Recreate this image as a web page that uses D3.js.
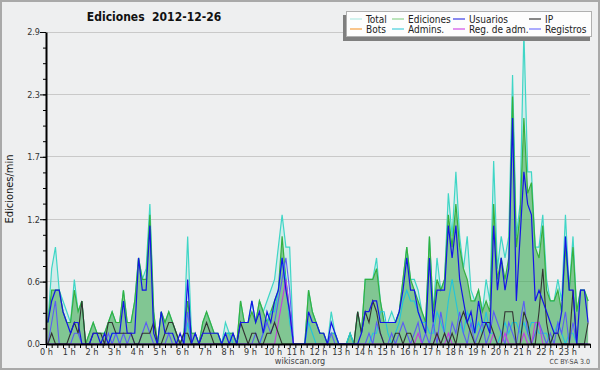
<!DOCTYPE html>
<html><head><meta charset="utf-8">
<script src="https://cdn.jsdelivr.net/npm/d3@7"></script>
<style>
html,body{margin:0;padding:0;background:#eeeff0;}
svg{display:block;font-family:"DejaVu Sans Condensed","DejaVu Sans",sans-serif;}
</style></head><body>
<svg id="c" width="600" height="370"></svg>
<script>
// ---------- data (10-minute slots, 0h .. 23h50) ----------
const hourLabels = ["0 h","1 h","2 h","3 h","4 h","5 h","6 h","7 h","8 h","9 h","10 h","11 h",
  "12 h","13 h","14 h","15 h","16 h","17 h","18 h","19 h","20 h","21 h","22 h","23 h"];
const yTickValues = [0, 0.58, 1.16, 1.74, 2.32, 2.9];
const yTickLabels = ["0.0","0.6","1.2","1.7","2.3","2.9"];

const total = [
0.2,0.7,0.9,0.5,0.4,0.3, 0.2,0.6,0.3,0.4,0.0,0.1, 0.2,0.1,0.1,0.1,0.2,0.3, 0.2,0.2,0.5,0.2,0.2,0.4,
0.8,0.6,0.7,1.3,0.3,0.0, 0.3,0.2,0.3,0.2,0.1,0.0, 0.1,1.0,0.1,0.1,0.0,0.2, 0.3,0.2,0.1,0.1,0.0,0.2,
0.1,0.1,0.0,0.4,0.2,0.2, 0.4,0.2,0.4,0.3,0.4,0.5, 0.6,0.9,1.2,0.9,0.9,0.0, 0.0,0.0,0.0,0.5,0.3,0.2,
0.1,0.1,0.0,0.3,0.1,0.0, 0.0,0.0,0.1,0.0,0.3,0.1, 0.6,0.6,0.6,0.8,0.4,0.2, 0.2,0.3,0.2,0.3,0.6,0.9,
0.6,0.6,0.5,0.3,0.2,1.0, 0.3,0.8,0.5,0.6,1.4,1.0, 1.6,1.0,0.7,1.0,0.5,0.4, 0.5,0.3,0.6,0.4,1.7,0.7,
1.0,0.8,1.0,2.5,1.0,1.3, 2.9,1.6,1.6,0.9,0.9,1.2, 0.6,0.4,0.4,0.6,0.4,1.2, 0.5,1.0,0.3,0.5,0.5,0.4];

const ediciones = [
0.2,0.5,0.5,0.5,0.3,0.2, 0.2,0.5,0.3,0.4,0.0,0.1, 0.2,0.1,0.1,0.1,0.2,0.3, 0.2,0.2,0.5,0.2,0.2,0.4,
0.8,0.6,0.6,1.2,0.3,0.0, 0.3,0.2,0.3,0.2,0.1,0.0, 0.1,0.4,0.1,0.1,0.0,0.2, 0.3,0.2,0.1,0.1,0.0,0.1,
0.1,0.1,0.0,0.4,0.2,0.2, 0.3,0.2,0.4,0.3,0.2,0.3, 0.4,0.5,1.0,0.6,0.3,0.0, 0.0,0.0,0.0,0.5,0.3,0.2,
0.1,0.1,0.0,0.1,0.1,0.0, 0.0,0.0,0.1,0.0,0.3,0.1, 0.6,0.6,0.6,0.7,0.4,0.2, 0.2,0.2,0.2,0.3,0.6,0.9,
0.6,0.5,0.4,0.3,0.2,1.0, 0.3,0.6,0.5,0.6,1.2,0.9, 1.3,0.9,0.7,0.6,0.4,0.4, 0.5,0.3,0.4,0.3,1.3,0.6,
0.8,0.6,0.8,2.3,0.9,1.2, 2.1,1.4,1.5,0.9,0.8,1.1, 0.5,0.4,0.4,0.5,0.3,0.9, 0.5,0.9,0.3,0.5,0.5,0.4];

const usuarios = [
0.2,0.4,0.5,0.5,0.3,0.2, 0.1,0.2,0.2,0.0,0.0,0.0, 0.1,0.1,0.0,0.1,0.0,0.1, 0.1,0.1,0.4,0.1,0.1,0.1,
0.8,0.5,0.5,1.1,0.1,0.0, 0.3,0.1,0.1,0.1,0.0,0.1, 0.0,0.6,0.0,0.1,0.0,0.1, 0.1,0.1,0.1,0.1,0.0,0.1,
0.0,0.1,0.0,0.2,0.2,0.2, 0.4,0.2,0.3,0.1,0.3,0.2, 0.4,0.5,0.8,0.5,0.3,0.0, 0.0,0.0,0.0,0.3,0.2,0.2,
0.1,0.1,0.0,0.2,0.1,0.0, 0.0,0.0,0.0,0.0,0.0,0.1, 0.3,0.3,0.4,0.4,0.2,0.2, 0.2,0.2,0.2,0.3,0.5,0.8,
0.5,0.5,0.3,0.2,0.1,0.8, 0.2,0.5,0.5,0.5,1.1,0.8, 1.1,0.6,0.4,0.2,0.3,0.1, 0.4,0.2,0.2,0.1,1.1,0.5,
0.8,0.5,0.7,2.1,0.4,1.0, 1.6,1.3,1.2,0.4,0.5,0.4, 0.3,0.2,0.1,0.1,0.3,1.0, 0.5,0.5,0.0,0.5,0.5,0.2];

const ip = [
0.0,0.1,0.0,0.0,0.0,0.0, 0.1,0.2,0.1,0.4,0.0,0.0, 0.1,0.1,0.1,0.0,0.2,0.2, 0.1,0.1,0.1,0.1,0.1,0.0,
0.0,0.1,0.1,0.1,0.2,0.0, 0.0,0.1,0.2,0.2,0.1,0.0, 0.1,0.1,0.0,0.0,0.0,0.1, 0.2,0.1,0.0,0.0,0.0,0.0,
0.0,0.0,0.0,0.2,0.1,0.0, 0.1,0.1,0.0,0.0,0.1,0.1, 0.2,0.1,0.0,0.0,0.0,0.0, 0.0,0.0,0.0,0.0,0.0,0.0,
0.0,0.0,0.0,0.0,0.0,0.0, 0.0,0.0,0.0,0.0,0.3,0.1, 0.3,0.2,0.4,0.3,0.1,0.0, 0.0,0.0,0.1,0.1,0.0,0.1,
0.1,0.0,0.0,0.0,0.0,0.0, 0.0,0.1,0.0,0.1,0.0,0.1, 0.0,0.2,0.3,0.2,0.1,0.0, 0.0,0.1,0.2,0.2,0.1,0.0,
0.0,0.3,0.3,0.3,0.0,0.0, 0.3,0.2,0.0,0.0,0.3,0.7, 0.2,0.0,0.1,0.1,0.0,0.0, 0.0,0.5,0.0,0.0,0.0,0.2];

const admins = [
0.0,0.0,0.0,0.0,0.0,0.0, 0.0,0.0,0.0,0.0,0.0,0.0, 0.0,0.0,0.0,0.0,0.0,0.1, 0.1,0.0,0.0,0.0,0.0,0.0,
0.0,0.0,0.0,0.0,0.0,0.0, 0.0,0.0,0.0,0.0,0.0,0.0, 0.0,0.2,0.0,0.0,0.0,0.0, 0.0,0.0,0.0,0.0,0.0,0.1,
0.1,0.0,0.0,0.0,0.0,0.0, 0.0,0.0,0.0,0.1,0.2,0.3, 0.3,0.5,0.8,0.6,0.2,0.0, 0.0,0.0,0.0,0.2,0.1,0.0,
0.0,0.0,0.0,0.1,0.1,0.0, 0.0,0.0,0.1,0.0,0.0,0.0, 0.0,0.0,0.1,0.1,0.3,0.3, 0.1,0.0,0.1,0.2,0.4,0.5,
0.4,0.4,0.3,0.2,0.2,0.1, 0.1,0.3,0.2,0.1,0.4,0.6, 0.4,0.2,0.1,0.3,0.2,0.1, 0.2,0.1,0.3,0.1,0.1,0.0,
0.1,0.2,0.1,0.2,0.2,0.1, 0.2,0.1,0.2,0.2,0.1,0.1, 0.1,0.0,0.1,0.2,0.1,0.0, 0.1,0.1,0.0,0.0,0.0,0.0];

const registros = [
0.0,0.2,0.4,0.0,0.0,0.0, 0.0,0.1,0.1,0.0,0.0,0.0, 0.0,0.0,0.0,0.0,0.1,0.0, 0.1,0.0,0.1,0.0,0.1,0.0,
0.0,0.1,0.2,0.1,0.0,0.0, 0.0,0.0,0.1,0.0,0.0,0.0, 0.0,0.3,0.0,0.0,0.0,0.0, 0.0,0.0,0.0,0.0,0.0,0.0,
0.0,0.0,0.0,0.0,0.0,0.0, 0.0,0.1,0.0,0.1,0.2,0.1, 0.2,0.4,0.6,0.8,0.5,0.0, 0.0,0.0,0.0,0.0,0.0,0.0,
0.0,0.0,0.0,0.1,0.0,0.0, 0.0,0.0,0.0,0.0,0.0,0.0, 0.0,0.1,0.0,0.2,0.1,0.0, 0.0,0.1,0.0,0.1,0.2,0.1,
0.0,0.1,0.2,0.0,0.1,0.0, 0.2,0.0,0.3,0.1,0.0,0.2, 0.1,0.3,0.1,0.0,0.2,0.0, 0.1,0.2,0.0,0.1,0.3,0.2,
0.1,0.0,0.2,0.1,0.0,0.2, 0.4,0.1,0.0,0.1,0.2,0.1, 0.0,0.1,0.0,0.2,0.1,0.3, 0.0,0.2,0.0,0.0,0.0,0.0];

const regAdm = [
0,0,0,0,0,0, 0,0,0,0,0,0, 0,0,0,0,0,0, 0,0,0,0,0,0,
0,0,0,0,0,0, 0,0,0,0,0,0, 0,0,0,0,0,0, 0,0,0,0,0,0,
0,0,0,0,0,0, 0,0,0,0,0,0, 0,0.2,0.4,0.6,0.3,0, 0,0,0,0,0,0,
0,0,0,0,0,0, 0,0,0,0,0,0, 0,0,0,0,0,0, 0,0,0,0,0,0,
0,0,0.1,0,0,0, 0,0.1,0,0,0.1,0, 0,0,0,0,0,0, 0,0,0,0,0.1,0,
0,0.1,0,0,0,0, 0.1,0,0,0.2,0.2,0, 0,0,0,0,0,0, 0,0,0,0,0,0];

const legendItems = [
  {name:"Total", color:"#b5ebe5"}, {name:"Ediciones", color:"#8fd48f"},
  {name:"Usuarios", color:"#3c3ce6"}, {name:"IP", color:"#3a3a3a"},
  {name:"Bots", color:"#f7a040"}, {name:"Admins.", color:"#46cfdc"},
  {name:"Reg. de adm.", color:"#d04ee8"}, {name:"Registros", color:"#7676ff"}
];

// ---------- drawing ----------
const svg = d3.select("#c");
svg.append("rect").attr("x",1).attr("y",1).attr("width",598).attr("height",368)
  .attr("fill","#eeeff0").attr("stroke","#a9a9a9").attr("stroke-width",2);

const x = d3.scaleLinear().domain([0,1440]).range([46,590]);
const y = d3.scaleLinear().domain([0,2.9]).range([344,32]);
const xs = (d,i) => x(i*10+5);

// grid
svg.append("g").selectAll("line").data(yTickValues.slice(1)).join("line")
  .attr("x1",46).attr("x2",590).attr("y1",d=>y(d)).attr("y2",d=>y(d))
  .attr("stroke","#c9c9c9").attr("stroke-width",1).attr("shape-rendering","crispEdges");

const area = d3.area().x(xs).y0(y(0)).y1(d=>y(d));
const line = d3.line().x(xs).y(d=>y(d));

svg.append("path").datum(total).attr("d",area).attr("fill","rgba(64,224,208,0.16)");
svg.append("path").datum(ediciones).attr("d",area).attr("fill","rgba(50,160,60,0.5)");

const series = [
  {d:total, c:"#3fd6c6", w:1.2},
  {d:ediciones, c:"#36b03e", w:1.2},
  {d:admins, c:"#22c4dc", w:1.1},
  {d:registros, c:"#5c5cf5", w:1.1},
  {d:regAdm, c:"#c43ce0", w:1.1},
  {d:ip, c:"#333333", w:1.1},
  {d:usuarios, c:"#1414e6", w:1.2}
];
series.forEach(s => {
  svg.append("path").datum(s.d).attr("d",line).attr("fill","none")
    .attr("stroke",s.c).attr("stroke-width",s.w).attr("stroke-linejoin","miter");
});

// y axis
const minor = d3.range(0,21).map(k=>k*0.145);
const gyMinor = svg.append("g").attr("transform","translate(46,0)")
  .call(d3.axisLeft(y).tickValues(minor).tickSize(3).tickFormat(""));
gyMinor.select(".domain").remove();
const gy = svg.append("g").attr("transform","translate(46,0)")
  .call(d3.axisLeft(y).tickValues(yTickValues).tickSize(6).tickSizeOuter(0)
    .tickFormat((d,i)=>yTickLabels[i]));
gy.select(".domain").attr("stroke","#000").attr("stroke-width",2);
gy.selectAll(".tick text").attr("x",-6).attr("font-size","9px").attr("fill","#333")
  .attr("font-family","DejaVu Sans Condensed, DejaVu Sans, sans-serif");
svg.selectAll(".tick line").attr("stroke","#000");

// x axis
const gx = svg.append("g").attr("transform","translate(0,344)")
  .call(d3.axisBottom(x).tickValues(d3.range(0,1441,15)).tickSize(4).tickSizeOuter(0)
    .tickFormat(d => (d%60===0 && d<1440) ? hourLabels[d/60] : ""));
gx.select(".domain").attr("stroke","#000").attr("stroke-width",2);
gx.selectAll(".tick line").attr("stroke","#000");
gx.selectAll(".tick text").attr("y",5).attr("font-size","9px").attr("fill","#333")
  .attr("font-family","DejaVu Sans Condensed, DejaVu Sans, sans-serif");

// titles
svg.append("text").attr("x",154).attr("y",21).attr("text-anchor","middle")
  .attr("font-size","12px").attr("font-weight","bold").attr("fill","#111")
  .attr("xml:space","preserve").text("Ediciones  2012-12-26");
svg.append("text").attr("transform","translate(13,189) rotate(-90)").attr("text-anchor","middle")
  .attr("font-size","11px").attr("fill","#111").text("Ediciones/min");
svg.append("text").attr("x",300).attr("y",364).attr("text-anchor","middle")
  .attr("font-size","9px").attr("fill","#444").text("wikiscan.org");
svg.append("text").attr("x",590).attr("y",364).attr("text-anchor","end")
  .attr("font-size","7px").attr("fill","#444").text("CC BY-SA 3.0");

// legend
const lg = svg.append("g");
lg.append("rect").attr("x",343).attr("y",15).attr("width",247).attr("height",26).attr("fill","#7f7f7f");
lg.append("rect").attr("x",346.5).attr("y",11.5).attr("width",245).attr("height",25)
  .attr("fill","#fdfdfd").attr("stroke","#b0b0b0").attr("stroke-width",1);
const colX = [366, 408, 469, 545];
legendItems.forEach((it,k) => {
  const cx = colX[k%4], cy = k<4 ? 19 : 29;
  lg.append("line").attr("x1",cx-16).attr("x2",cx-4).attr("y1",cy).attr("y2",cy)
    .attr("stroke",it.color).attr("stroke-width",1.2);
  lg.append("text").attr("x",cx).attr("y",cy+3.5).attr("font-size","10px").attr("fill","#222").text(it.name);
});
</script>
</body></html>
